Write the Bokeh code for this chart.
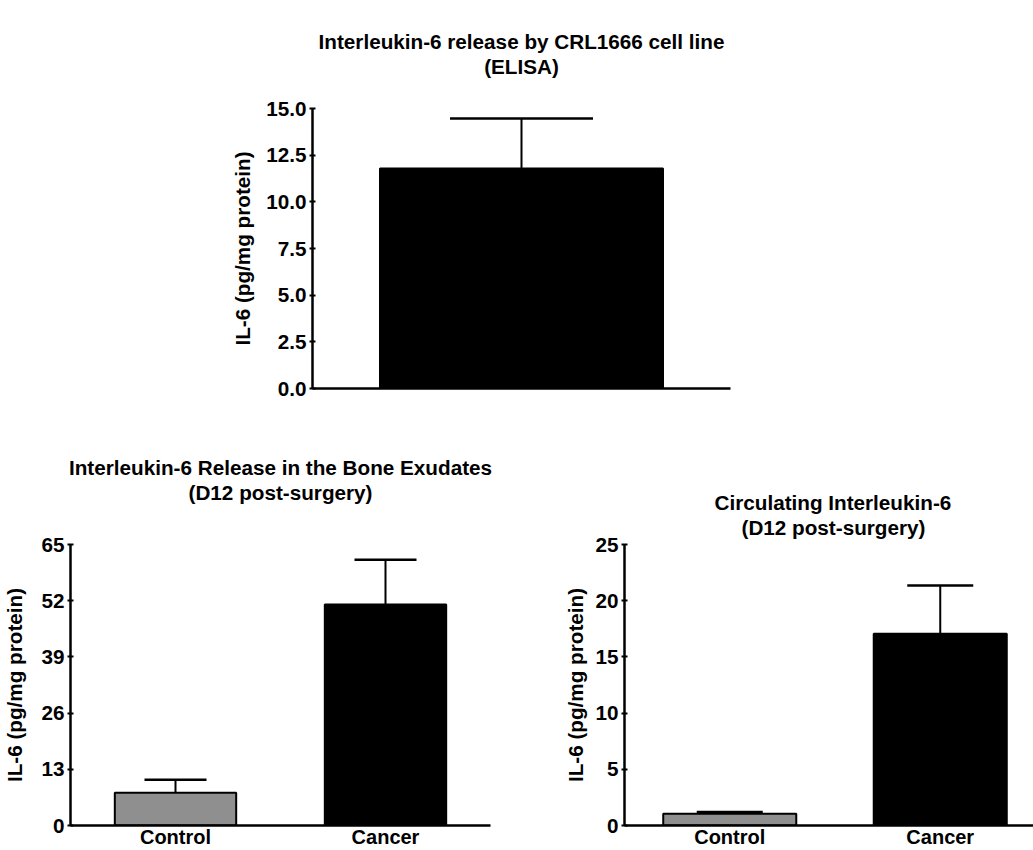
from bokeh.plotting import figure
from bokeh.models import (Range1d, FixedTicker, Title, Whisker, ColumnDataSource,
                          TeeHead, NumeralTickFormatter)
from bokeh.layouts import column, row
from bokeh.embed import file_html
from bokeh.resources import INLINE

FONT = "Liberation Sans"
FS = "20.7px"

# ---------------- data ----------------
elisa_groups = ["CRL1666"]
elisa_mean = [11.78]
elisa_sem = [2.68]
elisa_colors = ["#000000"]
elisa_ticks = [0, 2.5, 5, 7.5, 10, 12.5, 15]

bone_groups = ["Control", "Cancer"]
bone_mean = [7.6, 51.1]
bone_sem = [3.0, 10.4]
bone_colors = ["#8f8f8f", "#000000"]
bone_ticks = [0, 13, 26, 39, 52, 65]

circ_groups = ["Control", "Cancer"]
circ_mean = [1.05, 17.05]
circ_sem = [0.15, 4.3]
circ_colors = ["#8f8f8f", "#000000"]
circ_ticks = [0, 5, 10, 15, 20, 25]

ylabel = "IL-6 (pg/mg protein)"


def panel(groups, means, sems, colors, ticks, fmt, titles, width, height,
          borders, x_end, bar_w, cap_px, als, show_x, gap,
          title_align="center", title_offsets=(0, 0)):
    xs = [i + 0.5 for i in range(len(groups))]
    src = ColumnDataSource(dict(x=xs, top=means, upper=[m + s for m, s in zip(means, sems)],
                                color=colors, name=groups))
    p = figure(width=width, height=height, output_backend="svg", toolbar_location=None,
               x_range=Range1d(0, x_end), y_range=Range1d(0, ticks[-1]),
               min_border_left=borders[0], min_border_right=borders[1],
               min_border_top=borders[2], min_border_bottom=borders[3])
    # spacer (closest to frame), subtitle, main title (outermost)
    spacer = Title(text=" ", text_font_size="1px", standoff=gap)
    p.add_layout(spacer, "above")
    sub = Title(text=titles[1], align=title_align, offset=title_offsets[1],
                standoff=0, text_font=FONT, text_font_size=FS,
                text_font_style="bold", text_color="black", text_line_height=0.5)
    p.add_layout(sub, "above")
    p.title.text = titles[0]
    p.title.align = title_align
    p.title.offset = title_offsets[0]
    p.title.standoff = 0
    p.title.text_font = FONT
    p.title.text_font_size = FS
    p.title.text_font_style = "bold"
    p.title.text_color = "black"
    p.title.text_line_height = 0.5

    p.vbar(x="x", top="top", bottom=0, width=bar_w, fill_color="color",
           line_color="black", line_width=2, source=src)
    p.add_layout(Whisker(source=src, base="x", lower="top", upper="upper",
                         dimension="height", line_width=2, line_color="black",
                         upper_head=TeeHead(size=cap_px, line_width=2.5, line_color="black"),
                         lower_head=None))

    p.outline_line_color = None
    p.xgrid.visible = False
    p.ygrid.visible = False
    p.background_fill_color = "white"

    ya = p.yaxis[0]
    ya.ticker = FixedTicker(ticks=ticks)
    ya.formatter = NumeralTickFormatter(format=fmt)
    ya.minor_tick_line_color = None
    ya.major_tick_in = 3
    ya.major_tick_out = 3
    ya.major_tick_line_width = 2
    ya.axis_line_width = 2.5
    ya.major_label_standoff = 3
    ya.major_label_text_font = FONT
    ya.major_label_text_font_size = FS
    ya.major_label_text_font_style = "bold"
    ya.major_label_text_color = "black"
    ya.axis_label = ylabel
    ya.axis_label_text_font = FONT
    ya.axis_label_text_font_size = FS
    ya.axis_label_text_font_style = "bold"
    ya.axis_label_text_color = "black"
    ya.axis_label_standoff = als

    xa = p.xaxis[0]
    xa.axis_line_width = 2.5
    xa.minor_tick_line_color = None
    xa.major_tick_line_color = None
    xa.major_tick_in = 0
    xa.major_tick_out = 0
    xa.major_label_standoff = 0
    if show_x:
        xa.ticker = FixedTicker(ticks=xs)
        xa.major_label_overrides = {x: g for x, g in zip(xs, groups)}
        xa.major_label_text_font = FONT
        xa.major_label_text_font_size = "20px"
        xa.major_label_text_font_style = "bold"
        xa.major_label_text_color = "black"
    else:
        xa.ticker = FixedTicker(ticks=[])
    return p


p_top = panel(elisa_groups, elisa_mean, elisa_sem, elisa_colors, elisa_ticks, "0.0",
              ["Interleukin-6 release by CRL1666 cell line", "(ELISA)"],
              1033, 428, (312, 303, 108, 40), 1.0, 0.677, 143, 9, False, gap=28)

p_bl = panel(bone_groups, bone_mean, bone_sem, bone_colors, bone_ticks, "0",
             ["Interleukin-6 Release in the Bone Exudates", "(D12 post-surgery)"],
             555, 422, (69, 65, 116, 25), 2.0, 0.578, 62, 12, True, gap=38)

p_br = panel(circ_groups, circ_mean, circ_sem, circ_colors, circ_ticks, "0",
             ["Circulating Interleukin-6", "(D12 post-surgery)"],
             478, 422, (69, 0, 116, 25), 409 / 210.5, 0.632, 66, 5, True, gap=3,
             title_align="left", title_offsets=(90, 117))

layout = column(p_top, row(p_bl, p_br))
open("out.html", "w").write(file_html(layout, INLINE))
